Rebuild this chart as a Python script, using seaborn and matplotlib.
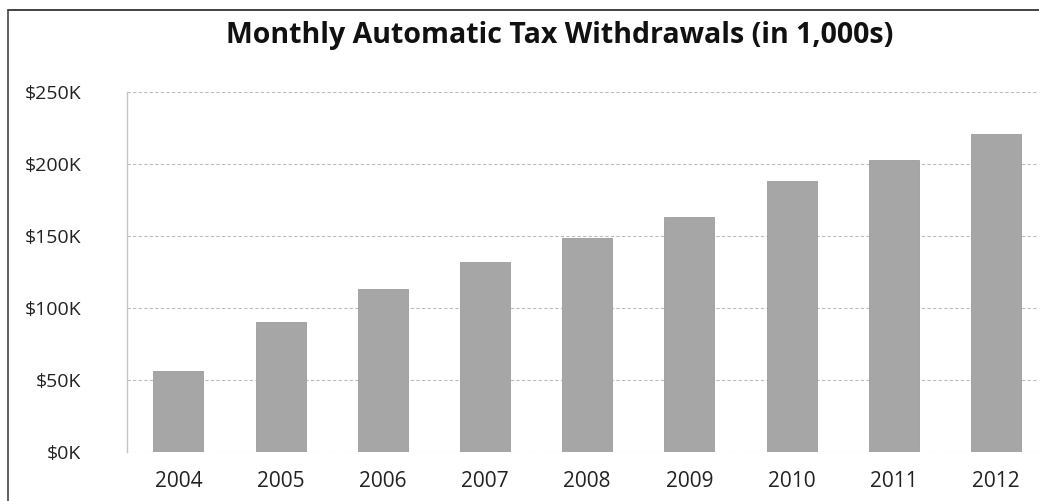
import matplotlib
matplotlib.use("Agg")
import matplotlib.pyplot as plt
from matplotlib.lines import Line2D
import seaborn as sns
import pandas as pd

years = ["2004", "2005", "2006", "2007", "2008", "2009", "2010", "2011", "2012"]
withdrawals_k = [56, 90, 113, 132, 149, 163, 188, 203, 221]
y_ticks = [0, 50, 100, 150, 200, 250]
y_tick_labels = ["$0K", "$50K", "$100K", "$150K", "$200K", "$250K"]
title = "Monthly Automatic Tax Withdrawals (in 1,000s)"

sns.set_theme(style="white")
plt.rcParams["font.family"] = ["Open Sans", "DejaVu Sans"]

df = pd.DataFrame({"year": years, "value": withdrawals_k})

fig = plt.figure(figsize=(10.39, 5.01), dpi=100)
ax = fig.add_axes([0.1225, 0.098, 0.8775, 0.718])

sns.barplot(data=df, x="year", y="value", color="#a6a6a6", saturation=1,
            width=0.49, edgecolor="#9c9c9c", linewidth=0.6, ax=ax, zorder=3)

ax.set_ylim(0, 250)
ax.set_xlim(-0.5, 8.42)
ax.set_yticks(y_ticks)
ax.set_yticklabels(y_tick_labels)
ax.set_xlabel("")
ax.set_ylabel("")
ax.yaxis.grid(True, color="#bdbdbd", linestyle=(0, (3, 2)), linewidth=0.8, zorder=0)
ax.set_axisbelow(True)
for side in ["top", "right", "bottom"]:
    ax.spines[side].set_visible(False)
ax.spines["left"].set_color("#c4c4c4")
ax.spines["left"].set_linewidth(1.0)
ax.tick_params(axis="y", length=0, labelsize=14, colors="#222222", pad=33)
ax.tick_params(axis="x", length=0, labelsize=15, colors="#222222", pad=14)

fig.text(0.539, 0.93, title, ha="center", va="center", fontsize=20.5,
         fontweight="bold", color="#111111")

# thin frame along the top and left edges
fig.add_artist(Line2D([0.008, 1.0], [0.98, 0.98], color="#222222", linewidth=1.2,
                      transform=fig.transFigure))
fig.add_artist(Line2D([0.008, 0.008], [0.0, 0.98], color="#444444", linewidth=1.2,
                      transform=fig.transFigure))

fig.savefig("out.png", dpi=100)
